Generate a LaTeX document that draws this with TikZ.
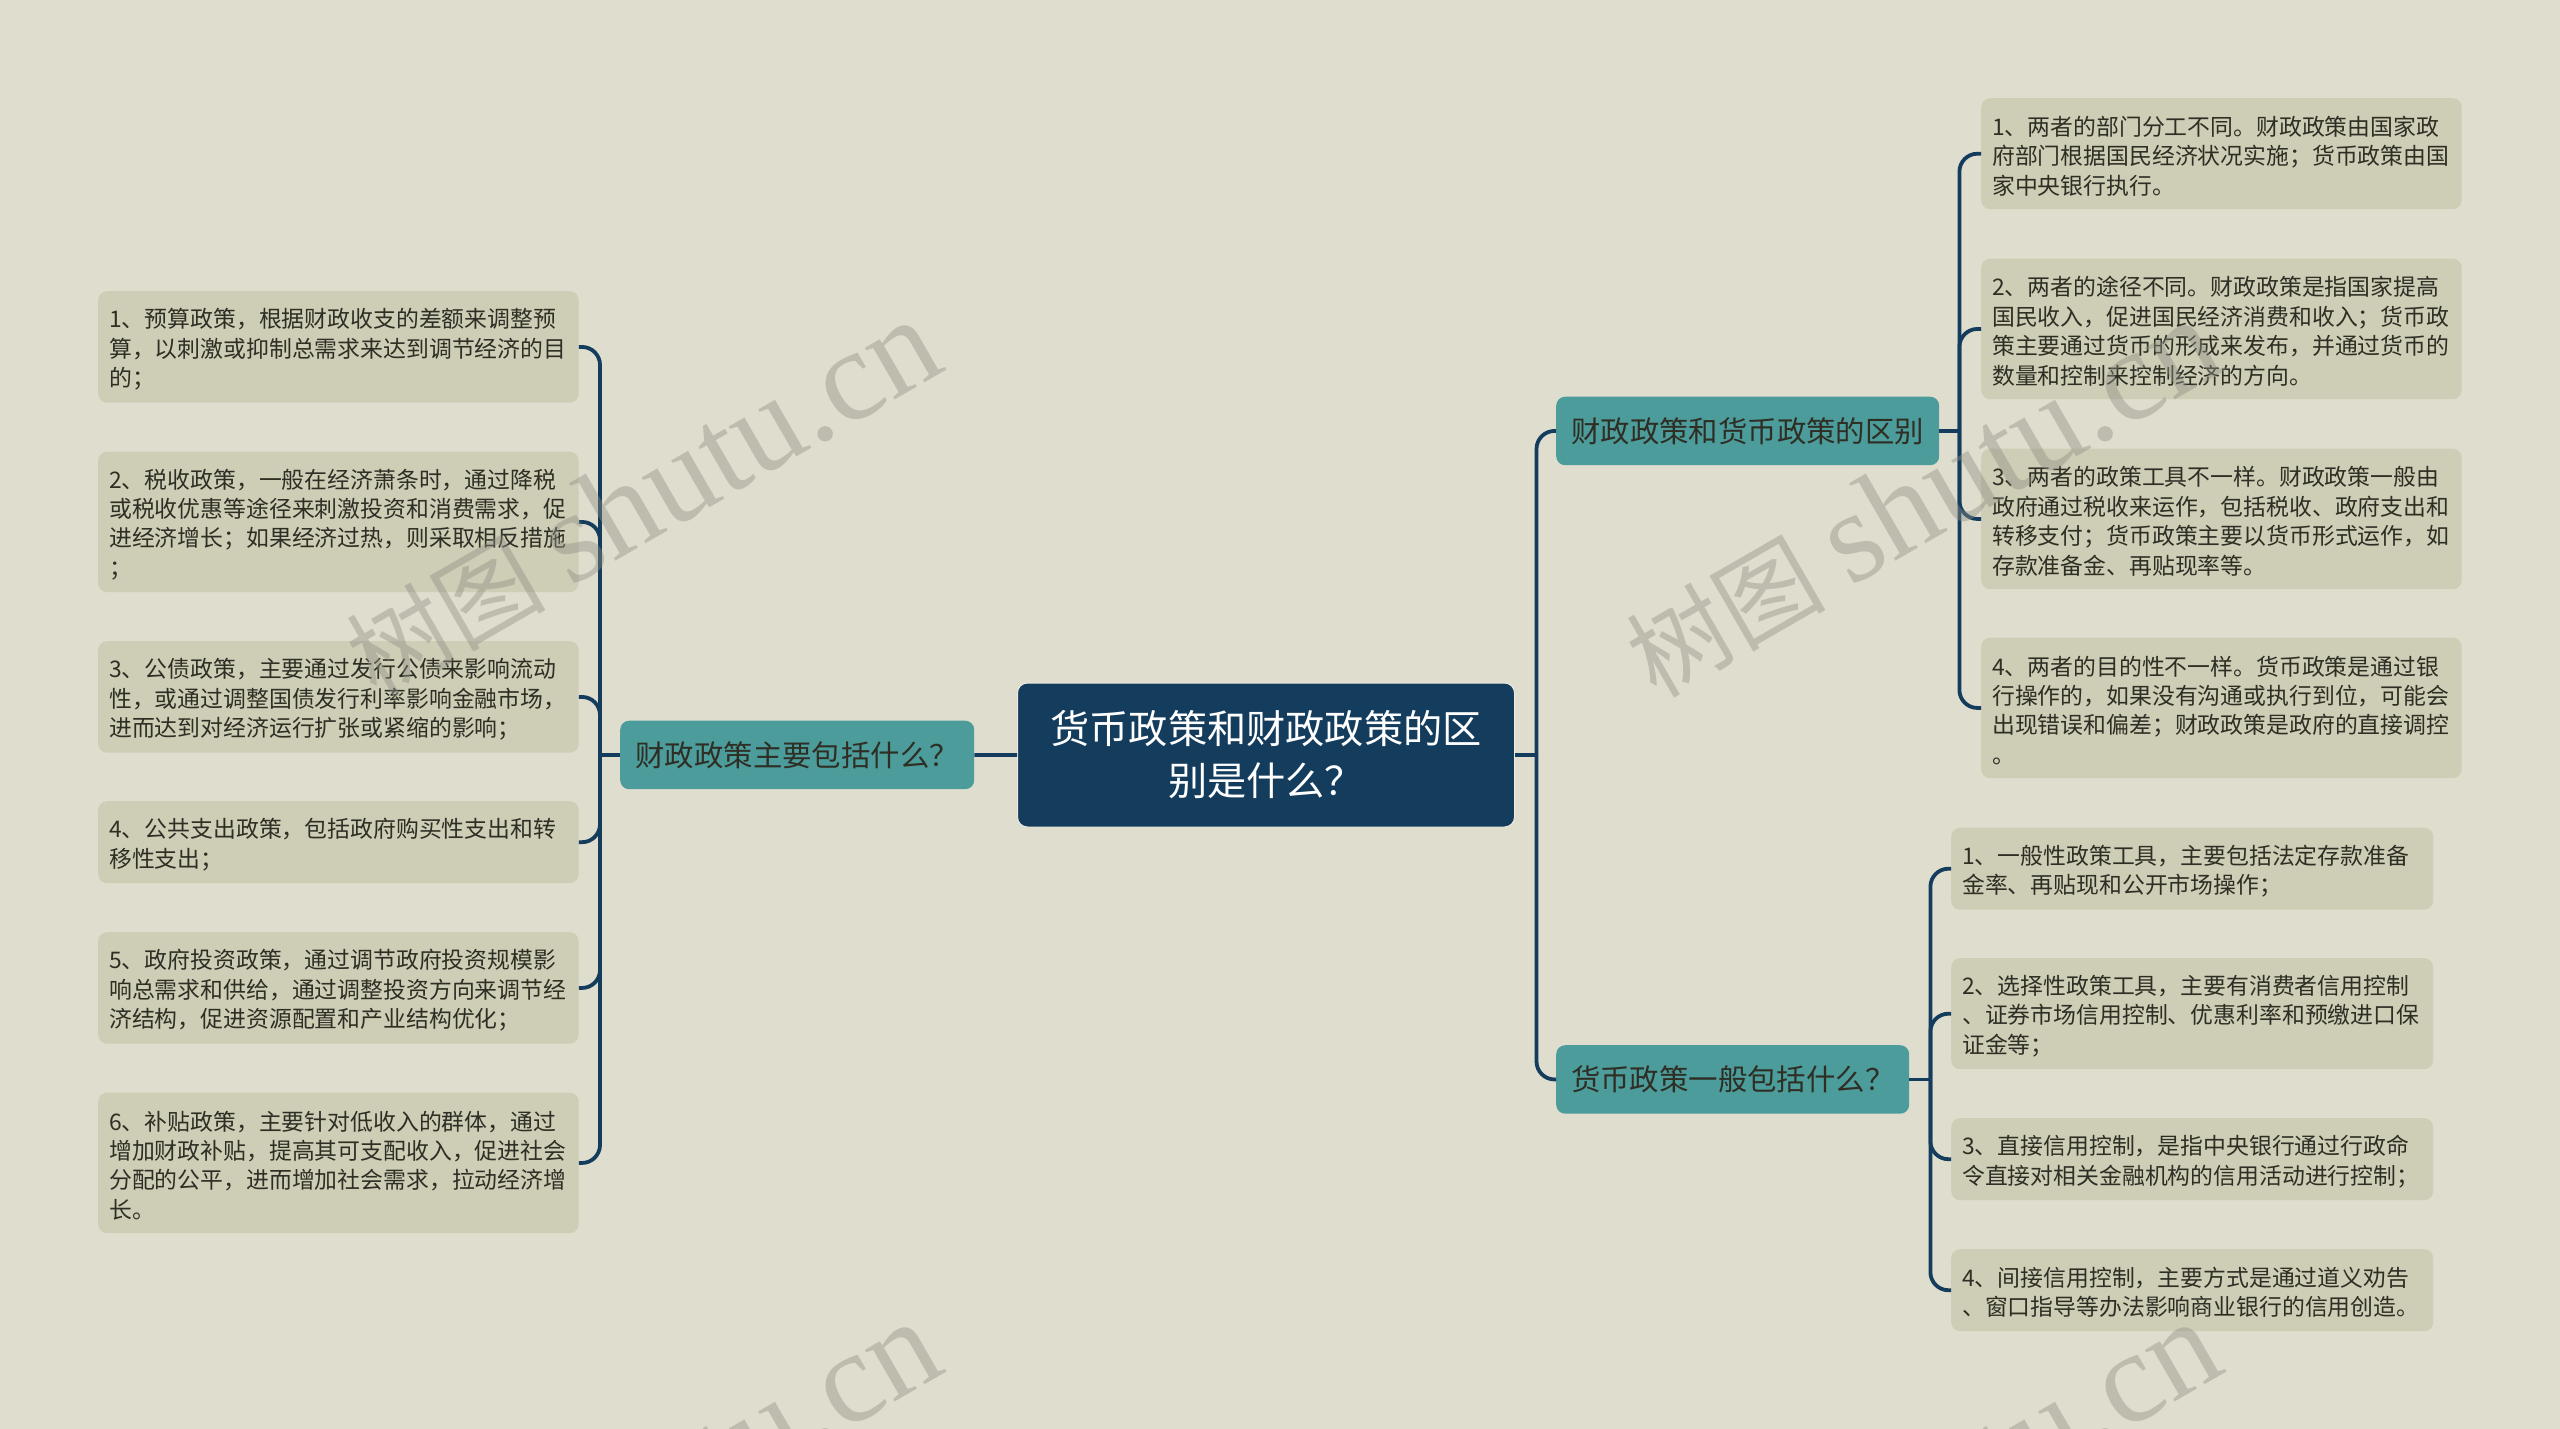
\documentclass[tikz,border=0pt]{standalone}
\usepackage{fontspec}
\setmainfont{Noto Sans CJK SC}
\newfontfamily\wmserif{Liberation Serif}
\usetikzlibrary{calc}
\definecolor{bgc}{HTML}{DFDECE}
\definecolor{leafc}{HTML}{CECDB6}
\definecolor{tealc}{HTML}{4C9C9B}
\definecolor{navyc}{HTML}{143C5C}
\definecolor{inkc}{HTML}{2E2E24}
\definecolor{wmc}{HTML}{8F8F86}
\newcommand{\wmtext}{{\fontsize{100}{100}\selectfont 树图}\hspace{24pt}{\wmserif\fontsize{130}{130}\selectfont shutu.cn}}
\newcommand{\lead}{\rule{0pt}{24pt}}
\tikzset{
  leafbox/.style={anchor=north west,fill=leafc,rounded corners=9pt,inner xsep=11pt,inner ysep=0pt,
    text width=458.5pt,align=left,text=inkc,font=\fontsize{22.86}{29.4}\selectfont},
  leafwide/.style={leafbox,text width=460pt},
  tealbox/.style={anchor=north west,fill=tealc,rounded corners=9pt,inner sep=0pt,align=center,text=inkc,
    font=\fontsize{29.4}{38}\selectfont,minimum height=68.5pt},
  rootbox/.style={anchor=north west,fill=navyc,draw=bgc!60!white,line width=1pt,rounded corners=10pt,inner sep=0pt,align=center,text=white,
    font=\fontsize{39.2}{52}\selectfont,minimum width=497pt,minimum height=144pt},
  conn/.style={draw=navyc,line width=3.8pt},
  elbow/.style={conn,rounded corners=18pt},
  wmark/.style={anchor=base west,rotate=30,text=wmc,opacity=0.42,inner sep=0pt}
}
\begin{document}
\begin{tikzpicture}[x=1pt,y=-1pt]
\useasboundingbox (0,0) rectangle (2560,1429);
\fill[bgc] (0,0) rectangle (2560,1429);
% nodes
\node[rootbox] (root) at (1017,682.5) {货币政策和财政政策的区\\别是什么？};
\node[tealbox,minimum width=354pt] (tl) at (620,720.5) {财政政策主要包括什么？};
\node[tealbox,minimum width=383pt] (ta) at (1556,396.5) {财政政策和货币政策的区别};
\node[tealbox,minimum width=353pt] (tb) at (1556,1045) {货币政策一般包括什么？};
% right upper
\node[leafbox,minimum height=111pt] (ra1) at (1981,98) {\lead 1、两者的部门分工不同。财政政策由国家政\\府部门根据国民经济状况实施；货币政策由国\\家中央银行执行。};
\node[leafbox,minimum height=140.5pt] (ra2) at (1981,258.5) {\lead 2、两者的途径不同。财政政策是指国家提高\\国民收入，促进国民经济消费和收入；货币政\\策主要通过货币的形成来发布，并通过货币的\\数量和控制来控制经济的方向。};
\node[leafbox,minimum height=140.5pt] (ra3) at (1981,448.5) {\lead 3、两者的政策工具不一样。财政政策一般由\\政府通过税收来运作，包括税收、政府支出和\\转移支付；货币政策主要以货币形式运作，如\\存款准备金、再贴现率等。};
\node[leafbox,minimum height=140.5pt] (ra4) at (1981,637.5) {\lead 4、两者的目的性不一样。货币政策是通过银\\行操作的，如果没有沟通或执行到位，可能会\\出现错误和偏差；财政政策是政府的直接调控\\。};
% right lower
\node[leafwide,minimum height=82pt] (rb1) at (1951,827.5) {\lead 1、一般性政策工具，主要包括法定存款准备\\金率、再贴现和公开市场操作；};
\node[leafwide,minimum height=111pt] (rb2) at (1951,958) {\lead 2、选择性政策工具，主要有消费者信用控制\\、证券市场信用控制、优惠利率和预缴进口保\\证金等；};
\node[leafwide,minimum height=82pt] (rb3) at (1951,1118) {\lead 3、直接信用控制，是指中央银行通过行政命\\令直接对相关金融机构的信用活动进行控制；};
\node[leafwide,minimum height=82pt] (rb4) at (1951,1249) {\lead 4、间接信用控制，主要方式是通过道义劝告\\、窗口指导等办法影响商业银行的信用创造。};
% left
\node[leafbox,minimum height=111.5pt] (l1) at (98,291) {\lead 1、预算政策，根据财政收支的差额来调整预\\算，以刺激或抑制总需求来达到调节经济的目\\的；};
\node[leafbox,minimum height=140.5pt] (l2) at (98,451.5) {\lead 2、税收政策，一般在经济萧条时，通过降税\\或税收优惠等途径来刺激投资和消费需求，促\\进经济增长；如果经济过热，则采取相反措施\\；};
\node[leafbox,minimum height=111.5pt] (l3) at (98,641) {\lead 3、公债政策，主要通过发行公债来影响流动\\性，或通过调整国债发行利率影响金融市场，\\进而达到对经济运行扩张或紧缩的影响；};
\node[leafbox,minimum height=82pt] (l4) at (98,801) {\lead 4、公共支出政策，包括政府购买性支出和转\\移性支出；};
\node[leafbox,minimum height=111.5pt] (l5) at (98,932) {\lead 5、政府投资政策，通过调节政府投资规模影\\响总需求和供给，通过调整投资方向来调节经\\济结构，促进资源配置和产业结构优化；};
\node[leafbox,minimum height=140.5pt] (l6) at (98,1092.5) {\lead 6、补贴政策，主要针对低收入的群体，通过\\增加财政补贴，提高其可支配收入，促进社会\\分配的公平，进而增加社会需求，拉动经济增\\长。};
% bus points
\coordinate (busroot) at ($(root.east)+(21.5,0)$);
\coordinate (busa) at ($(ta.east)+(20,0)$);
\coordinate (busb) at ($(tb.east)+(21,0)$);
\coordinate (busl) at ($(tl.west)+(-20,0)$);
% connectors
\draw[conn] (root.west) -- (tl.east);
\draw[conn] (root.east) -- (busroot);
\draw[elbow] (busroot) |- (ta.west);
\draw[elbow] (busroot) |- (tb.west);
\draw[conn] (ta.east) -- (busa);
\foreach \n in {ra1,ra2,ra3,ra4} \draw[elbow] (busa) |- (\n.west);
\draw[conn] (tb.east) -- (busb);
\foreach \n in {rb1,rb2,rb3,rb4} \draw[elbow] (busb) |- (\n.west);
\draw[conn] (tl.west) -- (busl);
\foreach \n in {l1,l2,l3,l4,l5,l6} \draw[elbow] (busl) |- (\n.east);
% watermarks
\begin{scope}
\clip (0,0) rectangle (2560,1429);
\node[wmark] (w1) at (376,700) {\wmtext};
\node[wmark] (w2) at (1656,700) {\wmtext};
\node[wmark] (w3) at (376,1702) {\wmtext};
\node[wmark] (w4) at (1656,1702) {\wmtext};
\end{scope}
\end{tikzpicture}
\end{document}
